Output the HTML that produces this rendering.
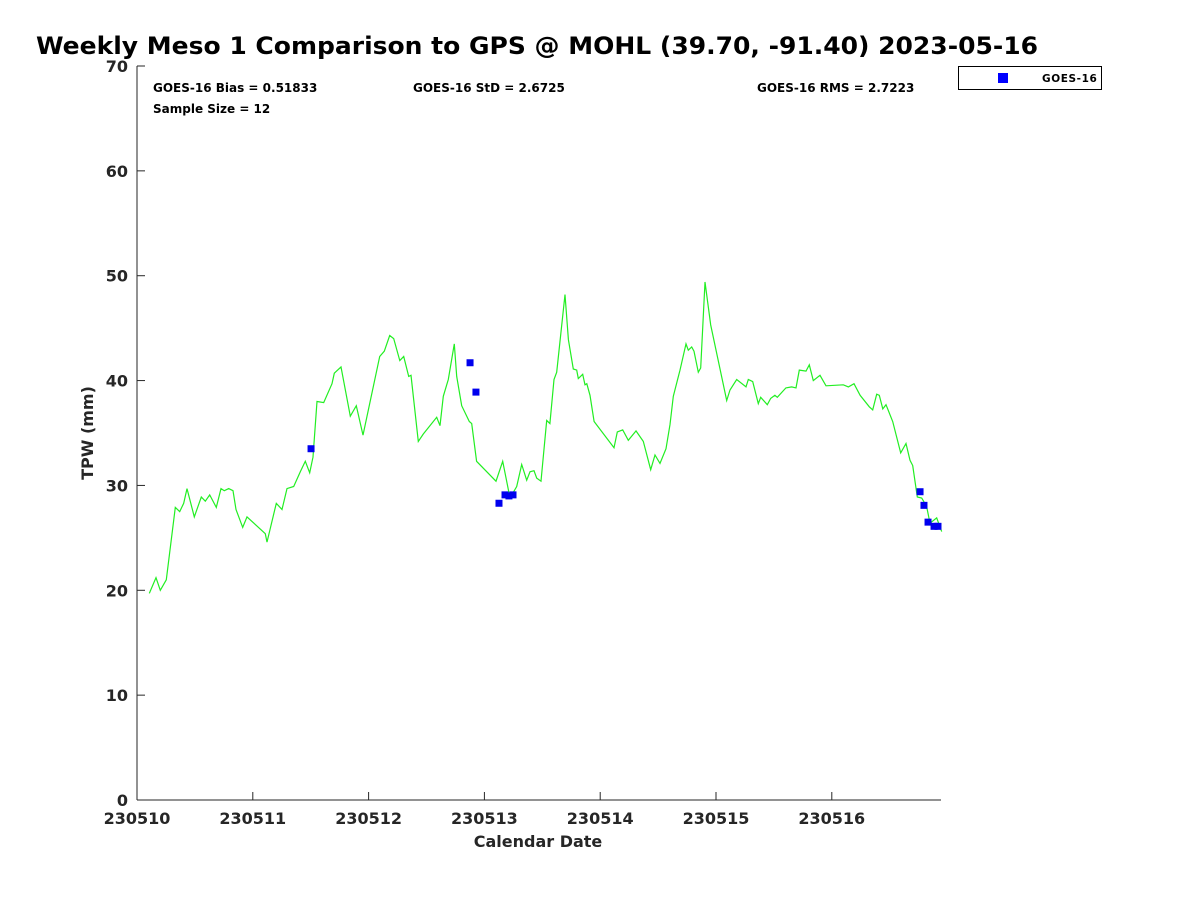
<!DOCTYPE html>
<html><head><meta charset="utf-8"><style>
html,body{margin:0;padding:0;background:#fff;}
svg{display:block;font-family:"DejaVu Sans","Liberation Sans",sans-serif;}
</style></head><body>
<svg id="chart" width="1200" height="900" viewBox="0 0 1200 900">
<text x="36" y="54" font-size="24" font-weight="bold" fill="#000" textLength="1002" lengthAdjust="spacingAndGlyphs">Weekly Meso 1 Comparison to GPS @ MOHL (39.70, -91.40) 2023-05-16</text>
<g font-size="12" font-weight="bold" fill="#000">
<text x="153" y="92">GOES-16 Bias = 0.51833</text>
<text x="413" y="92">GOES-16 StD = 2.6725</text>
<text x="757" y="92">GOES-16 RMS = 2.7223</text>
<text x="153" y="113">Sample Size = 12</text>
</g>
<g id="axes"></g>
<g id="series"></g>
<text x="538" y="847" font-size="16" font-weight="bold" text-anchor="middle" fill="#262626">Calendar Date</text>
<text transform="translate(93,433) rotate(-90)" font-size="16" font-weight="bold" text-anchor="middle" fill="#262626">TPW (mm)</text>
<g>
<rect x="958.5" y="66.5" width="143" height="23" fill="#fff" stroke="#000" stroke-width="1"/>
<rect x="998" y="73" width="10" height="10" fill="#0000ff"/>
<text x="1042" y="82" font-size="10.5" font-weight="bold" letter-spacing="0.6" fill="#000">GOES-16</text>
</g>
</svg>
<script>
const gpsDays=[0.106,0.164,0.201,0.253,0.331,0.369,0.403,0.432,0.495,0.555,0.590,0.628,0.685,0.725,0.754,0.792,0.829,0.855,0.913,0.950,1.108,1.123,1.203,1.252,1.295,1.353,1.410,1.453,1.491,1.520,1.554,1.612,1.684,1.704,1.762,1.842,1.894,1.952,2.096,2.136,2.182,2.217,2.269,2.303,2.346,2.366,2.429,2.472,2.588,2.617,2.645,2.688,2.740,2.761,2.804,2.870,2.890,2.933,3.100,3.158,3.221,3.279,3.322,3.365,3.394,3.428,3.452,3.489,3.538,3.566,3.601,3.624,3.696,3.725,3.768,3.797,3.811,3.849,3.869,3.884,3.912,3.947,4.119,4.148,4.194,4.243,4.309,4.372,4.436,4.473,4.516,4.568,4.603,4.631,4.689,4.741,4.761,4.790,4.810,4.847,4.868,4.905,4.954,5.092,5.121,5.179,5.259,5.279,5.317,5.365,5.386,5.443,5.472,5.509,5.529,5.604,5.654,5.691,5.719,5.777,5.806,5.840,5.898,5.950,6.099,6.143,6.192,6.244,6.324,6.353,6.388,6.410,6.440,6.468,6.526,6.595,6.641,6.675,6.699,6.738,6.776,6.819,6.848,6.906,6.949];
const gpsTPW=[19.7,21.2,20.0,21.0,27.9,27.5,28.3,29.7,27.0,28.9,28.5,29.1,27.9,29.7,29.5,29.7,29.5,27.7,26.0,27.0,25.4,24.6,28.3,27.7,29.7,29.9,31.3,32.3,31.2,32.7,38.0,37.9,39.7,40.7,41.3,36.6,37.6,34.8,42.3,42.8,44.3,44.0,41.9,42.3,40.4,40.5,34.2,34.9,36.5,35.7,38.5,40.1,43.5,40.4,37.6,36.1,35.9,32.3,30.4,32.3,28.8,29.9,32.0,30.5,31.3,31.4,30.7,30.4,36.2,35.9,40.1,40.8,48.2,43.9,41.1,41.0,40.2,40.6,39.6,39.7,38.6,36.1,33.6,35.1,35.3,34.3,35.2,34.2,31.5,32.9,32.1,33.5,35.8,38.5,41.0,43.5,42.9,43.2,42.8,40.8,41.2,49.4,45.3,38.1,39.1,40.1,39.4,40.1,39.9,37.8,38.4,37.7,38.3,38.6,38.4,39.3,39.4,39.3,41.0,40.9,41.5,40.0,40.5,39.5,39.6,39.4,39.7,38.6,37.5,37.2,38.7,38.6,37.3,37.7,36.1,33.1,34.0,32.4,31.9,28.9,28.8,28.0,26.4,26.9,25.6];
const goesDays=[1.503,2.876,2.927,3.126,3.178,3.212,3.247,6.762,6.796,6.831,6.883,6.917];
const goesTPW=[33.5,41.7,38.9,28.3,29.1,29.0,29.1,29.4,28.1,26.5,26.1,26.1];
const xTickLabels=["230510","230511","230512","230513","230514","230515","230516"];
const yTicks=[0,10,20,30,40,50,60,70];

const NS="http://www.w3.org/2000/svg";
const X0=137,X1=941,XMAX=6.943,Y0=800,Y1=66,YMAX=70;
const xs=d=>X0+d/XMAX*(X1-X0);
const ys=v=>Y0-v/YMAX*(Y0-Y1);
function mk(tag,attrs,parent){const e=document.createElementNS(NS,tag);for(const k in attrs)e.setAttribute(k,attrs[k]);parent.appendChild(e);return e;}
const axes=document.getElementById('axes'),series=document.getElementById('series');

let a=mk('line',{x1:X0,y1:Y1,x2:X0,y2:Y0,stroke:'#262626','stroke-width':1},axes);


a=mk('line',{x1:X0,y1:Y0,x2:X1,y2:Y0,stroke:'#262626','stroke-width':1},axes);



yTicks.forEach(v=>{
  const y=ys(v);
  const t=mk('line',{x1:X0,y1:y,x2:X0+8,y2:y,stroke:'#262626','stroke-width':1},axes);
  
  
  const l=mk('text',{x:128,y:y+6,'font-size':16,'font-weight':'bold','text-anchor':'end',fill:'#262626'},axes);
  l.textContent=v;
  
  
});
xTickLabels.forEach((s,i)=>{
  const x=xs(i);
  const t=mk('line',{x1:x,y1:Y0,x2:x,y2:Y0-8,stroke:'#262626','stroke-width':1},axes);
  
  
  const l=mk('text',{x:x,y:824,'font-size':16,'font-weight':'bold','text-anchor':'middle',fill:'#262626'},axes);
  l.textContent=s;
  
  
});

const pts=gpsDays.map((d,i)=>xs(d).toFixed(1)+','+ys(gpsTPW[i]).toFixed(1)).join(' ');
const line=mk('polyline',{points:pts,fill:'none',stroke:'#22ee22','stroke-width':1.2},series);



goesDays.forEach((d,i)=>{
  const r=mk('rect',{x:xs(d)-3.5,y:ys(goesTPW[i])-3.5,width:7,height:7,fill:'#0000ee'},series);
  
  
});
</script>
</body></html>
